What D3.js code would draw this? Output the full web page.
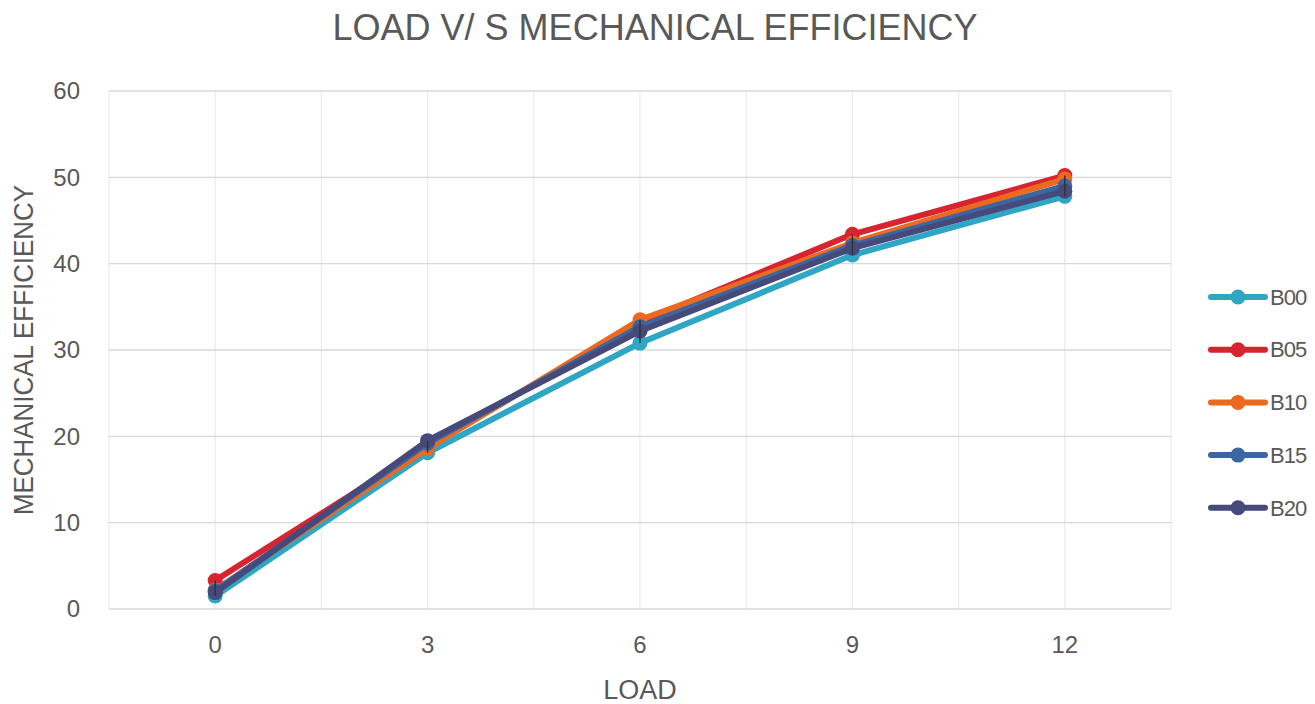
<!DOCTYPE html>
<html>
<head>
<meta charset="utf-8">
<script src="https://cdn.jsdelivr.net/npm/d3@7"></script>
<style>
  body { margin: 0; background: #fff; }
  svg { display: block; font-family: "Liberation Sans", Arial, sans-serif; }
</style>
</head>
<body>
<svg id="chart" width="1315" height="704"></svg>
<script>
// chart data
const loads = ['0', '3', '6', '9', '12'];
const seriesNames = ['B00', 'B05', 'B10', 'B15', 'B20'];
const b00 = [1.5, 18.1, 30.8, 41.0, 47.8];
const b05 = [3.3, 18.8, 33.2, 43.4, 50.2];
const b10 = [2.2, 18.6, 33.5, 42.4, 49.8];
const b15 = [2.1, 19.2, 32.7, 42.1, 49.0];
const b20 = [1.9, 19.5, 32.2, 41.8, 48.4];
const yTicks = [0, 10, 20, 30, 40, 50, 60];
const colors = ['#2ea6c4', '#d7242f', '#ec6a1f', '#3b66a0', '#464a7b'];

const series = [b00, b05, b10, b15, b20].map((vals, i) => ({
    name: seriesNames[i], color: colors[i], values: vals
}));

const svg = d3.select('#chart');
const margin = { top: 91, right: 144, bottom: 95, left: 109 };
const width = 1315, height = 704;
const innerW = width - margin.left - margin.right;
const innerH = height - margin.top - margin.bottom;

const x = d3.scaleBand().domain(loads).range([0, innerW]);
const y = d3.scaleLinear().domain([0, 60]).range([innerH, 0]);

const g = svg.append('g').attr('transform', `translate(${margin.left},${margin.top})`);

// vertical gridlines at band edges and centres
const vLines = [];
loads.forEach(l => { vLines.push(x(l)); vLines.push(x(l) + x.bandwidth() / 2); });
vLines.push(innerW);
g.selectAll('.vgrid').data(vLines).enter().append('line')
    .attr('x1', d => d).attr('x2', d => d)
    .attr('y1', 0).attr('y2', innerH)
    .attr('stroke', '#ececec').attr('stroke-width', 1.3);

// horizontal gridlines
g.selectAll('.hgrid').data(yTicks).enter().append('line')
    .attr('x1', 0).attr('x2', innerW)
    .attr('y1', d => y(d)).attr('y2', d => y(d))
    .attr('stroke', '#d9d9d9').attr('stroke-width', 1.3);

// y tick labels
g.selectAll('.ylab').data(yTicks).enter().append('text')
    .attr('x', -29).attr('y', d => y(d)).attr('dy', '0.35em')
    .attr('text-anchor', 'end').attr('fill', '#595959')
    .style('font-size', '24px').text(d => d);

// x tick labels
g.selectAll('.xlab').data(loads).enter().append('text')
    .attr('x', d => x(d) + x.bandwidth() / 2).attr('y', innerH + 44)
    .attr('text-anchor', 'middle').attr('fill', '#595959')
    .style('font-size', '24px').text(d => d);

const cx = d => x(d) + x.bandwidth() / 2;
const line = d3.line().x((d, i) => cx(loads[i])).y(d => y(d));

series.forEach(s => {
    const sg = g.append('g');
    sg.append('path').datum(s.values)
        .attr('d', line).attr('fill', 'none')
        .attr('stroke', s.color).attr('stroke-width', 6)
        .attr('stroke-linejoin', 'round');
    sg.selectAll('circle').data(s.values).enter().append('circle')
        .attr('cx', (d, i) => cx(loads[i])).attr('cy', d => y(d))
        .attr('r', 7.5).attr('fill', s.color);
});

// high-low lines
g.selectAll('.hilo').data(loads).enter().append('line')
    .attr('x1', d => cx(d)).attr('x2', d => cx(d))
    .attr('y1', (d, i) => y(d3.max(series, s => s.values[i])))
    .attr('y2', (d, i) => y(d3.min(series, s => s.values[i])))
    .attr('stroke', '#333').attr('stroke-width', 1.5);

// title and axis titles
svg.append('text').attr('x', 655).attr('y', 40)
    .attr('text-anchor', 'middle').attr('fill', '#595959')
    .attr('textLength', 645).attr('lengthAdjust', 'spacingAndGlyphs')
    .style('font-size', '37px').text('LOAD V/ S MECHANICAL EFFICIENCY');

svg.append('text').attr('x', 640).attr('y', 699)
    .attr('text-anchor', 'middle').attr('fill', '#595959')
    .style('font-size', '27px').text('LOAD');

svg.append('text')
    .attr('transform', 'translate(33,350) rotate(-90)')
    .attr('text-anchor', 'middle').attr('fill', '#595959')
    .attr('textLength', 330).attr('lengthAdjust', 'spacingAndGlyphs')
    .style('font-size', '28px').text('MECHANICAL EFFICIENCY');

// legend
const legend = svg.append('g').attr('transform', 'translate(1210,297)');
const item = legend.selectAll('g').data(series).enter().append('g')
    .attr('transform', (d, i) => `translate(0,${i * 52.7})`);
item.append('line').attr('x1', 1).attr('x2', 55).attr('y1', 0).attr('y2', 0)
    .attr('stroke', d => d.color).attr('stroke-width', 6).attr('stroke-linecap', 'round');
item.append('circle').attr('cx', 28).attr('cy', 0).attr('r', 7.5).attr('fill', d => d.color);
item.append('text').attr('x', 60).attr('y', 0).attr('dy', '0.35em')
    .attr('fill', '#595959').style('font-size', '22px').style('letter-spacing', '-1px')
    .text(d => d.name);
</script>
</body>
</html>
